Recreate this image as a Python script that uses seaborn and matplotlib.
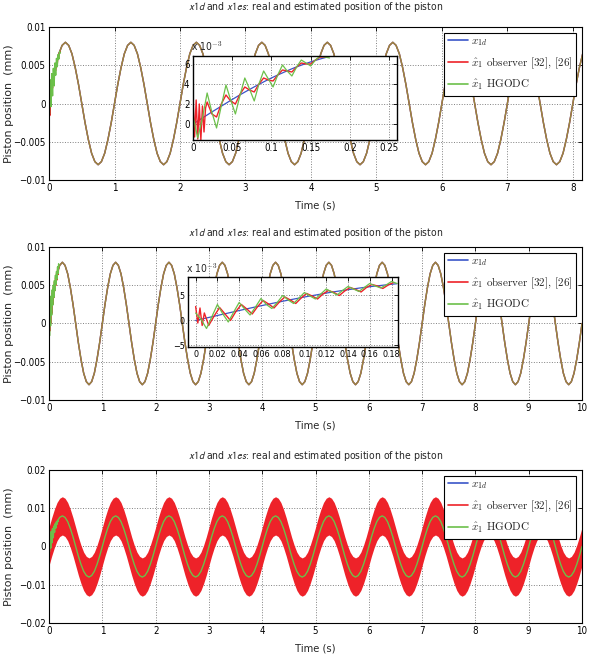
import numpy as np
import matplotlib
matplotlib.use("Agg")
import matplotlib.pyplot as plt
import seaborn as sns
from matplotlib.lines import Line2D

sns.set_style("white")
plt.rcParams['font.family'] = ['DejaVu Sans']
plt.rcParams['font.stretch'] = 'condensed'
plt.rcParams['mathtext.fontset'] = 'cm'

# one 1 s period of the position signal, read every 0.05 s
t_step = 0.05
n_cycles = 10
cycle_x1 = [0, 0.0025, 0.0047, 0.0065, 0.0076, 0.008, 0.0076, 0.0065, 0.0047, 0.0025,
            0, -0.0025, -0.0047, -0.0065, -0.0076, -0.008, -0.0076, -0.0065, -0.0047, -0.0025]
# red band (observer [32],[26]) envelope in the third plot
cycle_band_hi = [0.005, 0.0075, 0.0097, 0.0115, 0.0126, 0.013, 0.0126, 0.0115, 0.0097, 0.0075,
                 0.005, 0.0025, 0.0003, -0.0015, -0.0026, -0.003, -0.0026, -0.0015, 0.0003, 0.0025]
cycle_band_lo = [-0.005, -0.0025, -0.0003, 0.0015, 0.0026, 0.003, 0.0026, 0.0015, -0.0003, -0.0025,
                 -0.005, -0.0075, -0.0097, -0.0115, -0.0126, -0.013, -0.0126, -0.0115, -0.0097, -0.0075]

# start-up transient, plot 1 zoom (x 1e-3)
t_tr1 = [0.000, 0.006, 0.012, 0.018, 0.024, 0.030, 0.036, 0.042, 0.048, 0.054,
         0.060, 0.066, 0.072, 0.078, 0.084, 0.090, 0.096, 0.102, 0.108, 0.114,
         0.120, 0.126, 0.132, 0.138, 0.144, 0.150, 0.156, 0.162, 0.168, 0.174]
blue_tr1 = [0, 0.30, 0.60, 0.90, 1.20, 1.49, 1.78, 2.07, 2.36, 2.64,
            2.92, 3.19, 3.45, 3.71, 3.96, 4.21, 4.45, 4.68, 4.90, 5.11,
            5.32, 5.52, 5.71, 5.88, 6.05, 6.21, 6.36, 6.50, 6.63, 6.75]
green_tr1 = [0.8, -1.4, 0.6, 3.1, 1.2, -0.4, 1.8, 3.9, 2.4, 1.0,
             2.9, 4.6, 3.5, 2.3, 4.0, 5.3, 4.5, 3.7, 4.9, 5.9,
             5.3, 4.8, 5.7, 6.4, 6.1, 5.8, 6.4, 6.8, 6.7, 6.6]
t_red_tr1 = [0.000, 0.002, 0.004, 0.006, 0.008, 0.010, 0.012, 0.014, 0.016, 0.018,
             0.024, 0.030, 0.036, 0.042, 0.048, 0.054, 0.060, 0.066, 0.072, 0.078,
             0.084, 0.090, 0.096, 0.102, 0.108, 0.114, 0.120, 0.126, 0.132, 0.138,
             0.144, 0.150, 0.156, 0.162, 0.168, 0.174]
red_tr1 = [2.6, -1.3, 2.4, -1.5, 2.0, -1.6, 1.8, -0.8, 1.6, 2.2,
           1.0, 0.7, 2.0, 2.9, 2.3, 2.0, 3.0, 3.7, 3.4, 3.2,
           4.0, 4.6, 4.4, 4.3, 4.9, 5.4, 5.3, 5.2, 5.7, 6.1,
           6.0, 6.0, 6.4, 6.7, 6.7, 6.8]

# start-up transient, plot 2 zoom (x 1e-3)
t_tr2 = [0.000, 0.005, 0.010, 0.015, 0.020, 0.025, 0.030, 0.035, 0.040, 0.045,
         0.050, 0.055, 0.060, 0.065, 0.070, 0.075, 0.080, 0.085, 0.090, 0.095,
         0.100, 0.105, 0.110, 0.115, 0.120, 0.125, 0.130, 0.135, 0.140, 0.145,
         0.150, 0.155, 0.160, 0.165, 0.170, 0.175, 0.180, 0.185]
blue_tr2 = [0, 0.25, 0.50, 0.75, 1.00, 1.25, 1.49, 1.74, 1.99, 2.23,
            2.47, 2.71, 2.94, 3.17, 3.40, 3.62, 3.85, 4.06, 4.27, 4.48,
            4.70, 4.89, 5.08, 5.27, 5.48, 5.66, 5.83, 6.00, 6.16, 6.31,
            6.47, 6.61, 6.75, 6.88, 7.00, 7.12, 7.24, 7.35]
green_tr2 = [1.5, 0.2, -1.6, 0.8, 3.2, 1.3, -0.3, 1.7, 3.6, 2.3,
             1.1, 2.7, 4.4, 3.2, 2.4, 3.6, 5.0, 4.1, 3.4, 4.5,
             5.6, 4.9, 4.3, 5.3, 6.3, 5.7, 5.1, 6.0, 6.8, 6.3,
             5.8, 6.6, 7.4, 6.9, 6.5, 7.1, 7.8, 7.4]
t_red_tr2 = [0.000, 0.002, 0.004, 0.006, 0.008, 0.012, 0.017, 0.022, 0.027, 0.032,
             0.037, 0.042, 0.047, 0.052, 0.057, 0.062, 0.067, 0.072, 0.077, 0.082,
             0.087, 0.092, 0.097, 0.102, 0.107, 0.112, 0.117, 0.122, 0.127, 0.132,
             0.137, 0.142, 0.147, 0.152, 0.157, 0.162, 0.167, 0.172, 0.177, 0.182]
red_tr2 = [2.8, -0.5, 2.5, -1.0, 1.5, -1.0, 0.9, 2.6, 1.3, 0.0,
           1.8, 3.2, 2.3, 1.3, 2.8, 4.0, 3.3, 2.5, 3.7, 4.7,
           4.1, 3.4, 4.5, 5.4, 4.9, 4.3, 5.3, 6.0, 5.6, 5.0,
           5.9, 6.6, 6.2, 5.7, 6.6, 7.2, 6.9, 6.4, 7.1, 7.6]

title = r'$x1d$ and $x1es$: real and estimated position of the piston'
legend_labels = [r'$x_{1d}$', r'$\hat{x}_1$ observer [32], [26]', r'$\hat{x}_1$ HGODC']
c_blue, c_red, c_green = '#3a55c8', '#ee2229', '#6cc04a'

t = np.arange(len(cycle_x1) * n_cycles + 1) * t_step
x1 = np.append(np.tile(cycle_x1, n_cycles), cycle_x1[0])
band_hi = np.append(np.tile(cycle_band_hi, n_cycles), cycle_band_hi[0])
band_lo = np.append(np.tile(cycle_band_lo, n_cycles), cycle_band_lo[0])
k = 1e-3


def matlab_style(ax, xticks, yticks, ylabels=None, fs=7):
    ax.set_xticks(xticks)
    ax.set_yticks(yticks)
    if ylabels is not None:
        ax.set_yticklabels(ylabels)
    ax.grid(True, ls=':', color='#808080', lw=0.7)
    ax.tick_params(direction='in', top=True, right=True, length=3, width=0.6,
                   labelsize=fs, pad=2.5, colors='black')
    for sp in ax.spines.values():
        sp.set_visible(True)
        sp.set_color('black')
        sp.set_linewidth(0.8)


def add_legend(ax):
    handles = [Line2D([], [], color=c, lw=1.2) for c in (c_blue, c_red, c_green)]
    leg = ax.legend(handles, legend_labels, loc='upper right', prop={'family': 'cmr10', 'size': 8},
                    frameon=True, fancybox=False, edgecolor='black', framealpha=1,
                    borderpad=0.35, labelspacing=0.65, handlelength=1.8, handletextpad=0.3,
                    borderaxespad=0.5)
    leg.get_frame().set_linewidth(0.8)


def finish_main(ax, xmax, xticks, yticks, ylabels, title_pad=8):
    ax.set_xlim(0, xmax)
    ax.set_ylim(yticks[0], yticks[-1])
    matlab_style(ax, xticks, yticks, ylabels)
    ax.set_title(title, fontsize=7.5, pad=title_pad, math_fontfamily='stixsans')
    ax.set_xlabel('Time (s)', fontsize=8, labelpad=5)
    ax.set_ylabel('Piston position  (mm)', fontsize=8, fontstretch='normal', va='center')
    ax.yaxis.set_label_coords(-0.075, 0.5)


fig = plt.figure(figsize=(5.95, 6.65), dpi=100)
left, width, height = 0.0824, 0.8958, 0.2301
ax1 = fig.add_axes([left, 0.7293, width, height])
ax2 = fig.add_axes([left, 0.3985, width, height])
ax3 = fig.add_axes([left, 0.0632, width, height])

ylab1 = ['\u22120.01', '\u22120.005', '0', '0.005', '0.01']
ylab3 = ['\u22120.02', '\u22120.01', '0', '0.01', '0.02']

# plots 1 and 2: reference, observer and HGODC nearly on top of each other
for ax, tt_g, g, tt_r, r in ((ax1, t_tr1, green_tr1, t_red_tr1, red_tr1),
                              (ax2, t_tr2, green_tr2, t_red_tr2, red_tr2)):
    sns.lineplot(x=t, y=x1, ax=ax, color=c_blue, lw=1.0)
    sns.lineplot(x=t, y=x1, ax=ax, color=c_red, lw=1.0)
    sns.lineplot(x=t, y=x1, ax=ax, color=c_green, lw=1.0, alpha=0.65)
    sns.lineplot(x=np.array(tt_r), y=np.array(r) * k, ax=ax, color=c_red, lw=1.0)
    sns.lineplot(x=np.array(tt_g), y=np.array(g) * k, ax=ax, color=c_green, lw=1.0)

finish_main(ax1, 8.14, list(range(9)), [-0.01, -0.005, 0, 0.005, 0.01], ylab1, title_pad=12)
finish_main(ax2, 10, list(range(11)), [-0.01, -0.005, 0, 0.005, 0.01], ylab1)
add_legend(ax1)
add_legend(ax2)

# plot 3
ax3.fill_between(t, band_lo, band_hi, color=c_red, lw=0)
sns.lineplot(x=t, y=x1, ax=ax3, color=c_green, lw=1.0)
sns.lineplot(x=np.array(t_tr1), y=np.array(green_tr1) * k, ax=ax3, color=c_green, lw=1.2)
finish_main(ax3, 10, list(range(11)), [-0.02, -0.01, 0, 0.01, 0.02], ylab3)
add_legend(ax3)

# inset zooms
in1 = fig.add_axes([0.3244, 0.7895, 0.3429, 0.1263])
in1.set_facecolor('white')
sns.lineplot(x=t_tr1, y=blue_tr1, ax=in1, color=c_blue, lw=0.9)
sns.lineplot(x=t_red_tr1, y=red_tr1, ax=in1, color=c_red, lw=1.0)
sns.lineplot(x=t_tr1, y=green_tr1, ax=in1, color=c_green, lw=0.9)
in1.set_xlim(0, 0.26)
in1.set_ylim(-1.6, 6.8)
matlab_style(in1, [0, 0.05, 0.1, 0.15, 0.2, 0.25], [0, 2, 4, 6])
in1.set_xticklabels(['0', '0.05', '0.1', '0.15', '0.2', '0.25'])
in1.text(-0.01, 1.03, r'x 10$^{-3}$', transform=in1.transAxes, fontsize=7.5, va='bottom')

in2 = fig.add_axes([0.316, 0.4782, 0.353, 0.1053])
in2.set_facecolor('white')
sns.lineplot(x=t_tr2, y=blue_tr2, ax=in2, color=c_blue, lw=0.9)
sns.lineplot(x=t_red_tr2, y=red_tr2, ax=in2, color=c_red, lw=1.0)
sns.lineplot(x=t_tr2, y=green_tr2, ax=in2, color=c_green, lw=0.9)
in2.set_xlim(-0.007, 0.186)
in2.set_ylim(-5.3, 8.7)
matlab_style(in2, [0, 0.02, 0.04, 0.06, 0.08, 0.1, 0.12, 0.14, 0.16, 0.18], [-5, 0, 5],
             ['\u22125', '0', '5'], fs=6.5)
in2.set_xticklabels(['0', '0.02', '0.04', '0.06', '0.08', '0.1', '0.12', '0.14', '0.16', '0.18'])
in2.text(-0.01, 1.03, r'x 10$^{-3}$', transform=in2.transAxes, fontsize=7.5, va='bottom')

for a in (in1, in2):
    for sp in a.spines.values():
        sp.set_linewidth(1.0)

fig.savefig('out.png', dpi=100, facecolor='white')
